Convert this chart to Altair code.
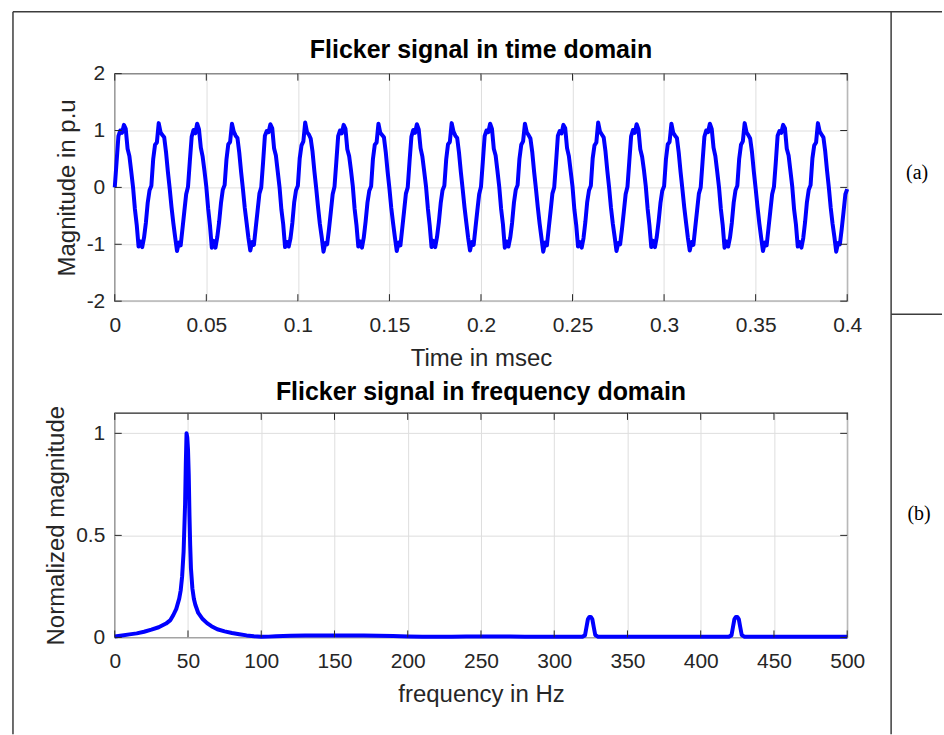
import altair as alt
import pandas as pd

# ---------------- data ----------------
# time-domain signal, one list per 20 ms cycle, sampled every 1 ms
signal_cycles = [
    [0.00, 0.45, 0.90, 1.00, 0.96, 1.10, 1.03, 0.68, 0.55, 0.28, 0.00, -0.38, -0.66, -1.04, -0.95, -1.05, -0.88, -0.62, -0.27, -0.05],
    [0.03, 0.50, 0.75, 0.79, 1.13, 0.97, 0.92, 0.88, 0.62, 0.28, -0.02, -0.35, -0.63, -0.88, -1.12, -0.97, -1.02, -0.72, -0.42, -0.12],
    [0.01, 0.46, 0.89, 1.01, 0.95, 1.12, 1.02, 0.70, 0.54, 0.29, 0.01, -0.37, -0.67, -1.06, -0.94, -1.06, -0.87, -0.61, -0.28, -0.04],
    [0.04, 0.49, 0.76, 0.80, 1.12, 0.98, 0.91, 0.87, 0.61, 0.27, -0.03, -0.36, -0.62, -0.89, -1.11, -0.96, -1.01, -0.71, -0.41, -0.11],
    [0.00, 0.44, 0.91, 0.99, 0.97, 1.11, 1.04, 0.69, 0.56, 0.28, 0.00, -0.39, -0.65, -1.05, -0.96, -1.04, -0.89, -0.62, -0.26, -0.05],
    [0.03, 0.51, 0.74, 0.81, 1.14, 0.97, 0.93, 0.86, 0.63, 0.29, -0.01, -0.34, -0.64, -0.87, -1.13, -0.98, -1.00, -0.73, -0.43, -0.12],
    [0.01, 0.45, 0.90, 1.00, 0.95, 1.10, 1.03, 0.67, 0.55, 0.30, 0.02, -0.38, -0.66, -1.04, -0.95, -1.06, -0.88, -0.60, -0.27, -0.06],
    [0.02, 0.50, 0.75, 0.79, 1.12, 0.96, 0.92, 0.88, 0.62, 0.28, -0.02, -0.36, -0.63, -0.88, -1.12, -0.97, -1.02, -0.72, -0.42, -0.11],
    [0.00, 0.46, 0.89, 1.01, 0.96, 1.11, 1.02, 0.69, 0.54, 0.28, 0.01, -0.37, -0.67, -1.05, -0.94, -1.05, -0.87, -0.61, -0.28, -0.05],
    [0.03, 0.49, 0.76, 0.80, 1.13, 0.98, 0.91, 0.87, 0.61, 0.27, -0.03, -0.35, -0.62, -0.89, -1.11, -0.96, -1.01, -0.71, -0.41, -0.12],
    [0.01, 0.45, 0.90, 1.00, 0.97, 1.12, 1.03, 0.68, 0.56, 0.29, 0.00, -0.38, -0.65, -1.06, -0.95, -1.04, -0.88, -0.62, -0.27, -0.04],
    [0.04, 0.50, 0.75, 0.81, 1.12, 0.97, 0.92, 0.86, 0.62, 0.28, -0.02, -0.34, -0.63, -0.88, -1.13, -0.97, -1.02, -0.72, -0.42, -0.11],
    [0.00, 0.44, 0.91, 0.99, 0.95, 1.10, 1.04, 0.69, 0.55, 0.28, 0.01, -0.39, -0.66, -1.04, -0.96, -1.06, -0.89, -0.61, -0.26, -0.05],
    [0.03, 0.51, 0.74, 0.79, 1.14, 0.98, 0.93, 0.88, 0.63, 0.29, -0.01, -0.36, -0.64, -0.87, -1.12, -0.98, -1.00, -0.73, -0.43, -0.12],
    [0.01, 0.46, 0.90, 1.01, 0.96, 1.11, 1.02, 0.67, 0.54, 0.30, 0.02, -0.37, -0.67, -1.05, -0.94, -1.05, -0.87, -0.60, -0.28, -0.06],
    [0.02, 0.49, 0.76, 0.80, 1.12, 0.96, 0.91, 0.87, 0.61, 0.27, -0.03, -0.35, -0.62, -0.89, -1.11, -0.96, -1.01, -0.71, -0.41, -0.11],
    [0.00, 0.45, 0.89, 1.00, 0.97, 1.12, 1.03, 0.70, 0.55, 0.28, 0.00, -0.38, -0.66, -1.06, -0.95, -1.04, -0.88, -0.62, -0.27, -0.05],
    [0.03, 0.50, 0.75, 0.81, 1.13, 0.97, 0.92, 0.86, 0.62, 0.28, -0.02, -0.34, -0.63, -0.88, -1.12, -0.97, -1.02, -0.72, -0.42, -0.12],
    [0.01, 0.44, 0.91, 0.99, 0.96, 1.10, 1.04, 0.68, 0.56, 0.29, 0.01, -0.39, -0.65, -1.04, -0.96, -1.06, -0.89, -0.61, -0.26, -0.04],
    [0.04, 0.51, 0.74, 0.79, 1.13, 0.98, 0.93, 0.88, 0.63, 0.29, -0.01, -0.36, -0.64, -0.87, -1.13, -0.98, -1.00, -0.73, -0.43, -0.12],
]
signal_last = -0.03
sample_step_s = 0.001

# frequency-domain spectrum
freq_hz = [0, 5, 10, 15, 20, 25, 30, 35, 38, 40, 42, 44, 45, 46, 47, 48, 48.5, 49, 49.5, 50,
           50.5, 51, 51.5, 52, 53, 54, 55, 57, 60, 63, 66, 70, 75, 80, 85, 90, 95, 100,
           105, 110, 120, 130, 140, 150, 160, 170, 180, 190, 200, 210, 220, 230, 240, 250,
           260, 270, 280, 290, 300, 310, 319, 321, 322, 323, 324, 325, 326, 327, 328, 330,
           340, 360, 380, 400, 410, 419, 421, 422, 423, 424, 425, 426, 427, 428, 430,
           440, 460, 480, 500]
freq_mag = [0.005, 0.01, 0.015, 0.02, 0.028, 0.038, 0.05, 0.068, 0.085, 0.11, 0.14, 0.19, 0.23, 0.30, 0.42, 0.65, 0.85, 1.0, 0.98, 0.92,
            0.80, 0.60, 0.45, 0.34, 0.24, 0.19, 0.16, 0.12, 0.09, 0.07, 0.055, 0.04, 0.03, 0.022, 0.016, 0.01, 0.006, 0.003,
            0.004, 0.006, 0.008, 0.009, 0.01, 0.01, 0.01, 0.009, 0.008, 0.007, 0.005, 0.004, 0.004, 0.004, 0.005, 0.005,
            0.005, 0.005, 0.004, 0.004, 0.004, 0.004, 0.003, 0.01, 0.05, 0.09, 0.10, 0.10, 0.09, 0.05, 0.012, 0.003,
            0.003, 0.003, 0.003, 0.003, 0.003, 0.003, 0.01, 0.05, 0.09, 0.10, 0.10, 0.09, 0.05, 0.012, 0.003,
            0.003, 0.003, 0.003, 0.003]

time_ticks = [0, 0.05, 0.1, 0.15, 0.2, 0.25, 0.3, 0.35, 0.4]
mag_ticks = [-2, -1, 0, 1, 2]
freq_ticks = [0, 50, 100, 150, 200, 250, 300, 350, 400, 450, 500]
norm_ticks = [0, 0.5, 1]

# ---------------- tables ----------------
sig_vals = [v for cyc in signal_cycles for v in cyc] + [signal_last]
df_time = pd.DataFrame({"t": [round(i * sample_step_s, 3) for i in range(len(sig_vals))], "v": sig_vals})
df_freq = pd.DataFrame({"f": freq_hz, "m": freq_mag})

# ---------------- styling ----------------
W = 734
H1 = 228
H2 = 225
GAP = 112
AX = "#262626"
BLUE = "#0000ff"
FONT = "Liberation Sans"
TICK_FS = 21
LAB_FS = 24
TITLE_FS = 25
TITLE_OFFSET = -20
TL = 7  # inward tick length

# the frame panel sits below the bottom plot; its origin in page pixels:
FR_X = 114
FR_Y = 72 + H1 + GAP + H2 + GAP
def rx(px):
    return px - FR_X
def ry(py):
    return py - FR_Y


def axis(title, values, title_pad=11):
    return alt.Axis(title=title, values=values, labelExpr="'' + datum.value",
                    grid=True, gridColor="#dedede", gridWidth=1, ticks=False, tickSize=0,
                    domain=False, labelFont=FONT, labelFontSize=TICK_FS, labelColor=AX,
                    labelPadding=13 if title_pad == 11 else 10, titleFont=FONT, titleFontSize=LAB_FS,
                    titleFontWeight="normal", titleColor=AX, titlePadding=title_pad,
                    labelOverlap=False, labelFlush=False)


def inward_ticks(xf, xvals, xscale, yf, yvals, yscale, w, h):
    dx = pd.DataFrame({xf: xvals})
    dy = pd.DataFrame({yf: yvals})
    X = alt.X(f"{xf}:Q", scale=xscale)
    Y = alt.Y(f"{yf}:Q", scale=yscale)
    rule_x = alt.Chart(dx).mark_rule(color=AX, strokeWidth=1)
    rule_y = alt.Chart(dy).mark_rule(color=AX, strokeWidth=1)
    return [
        rule_x.encode(x=X, y=alt.value(h), y2=alt.value(h - TL)),
        rule_x.encode(x=X, y=alt.value(0), y2=alt.value(TL)),
        rule_y.encode(y=Y, x=alt.value(0), x2=alt.value(TL)),
        rule_y.encode(y=Y, x=alt.value(w), x2=alt.value(w - TL)),
    ]


one = pd.DataFrame({"k": [0]})
FRAME = "#3c3c3c"
fw = 1.5
frame = alt.layer(
    alt.Chart(one).mark_rule(color=FRAME, strokeWidth=fw).encode(
        x=alt.value(rx(12)), y=alt.value(ry(10)), y2=alt.value(ry(734))),
    alt.Chart(one).mark_rule(color=FRAME, strokeWidth=fw).encode(
        x=alt.value(rx(892)), y=alt.value(ry(10)), y2=alt.value(ry(734))),
    alt.Chart(one).mark_rule(color=FRAME, strokeWidth=fw).encode(
        x=alt.value(rx(12)), x2=alt.value(rx(943)), y=alt.value(ry(10))),
    alt.Chart(one).mark_rule(color=FRAME, strokeWidth=fw).encode(
        x=alt.value(rx(892)), x2=alt.value(rx(943)), y=alt.value(ry(313))),
    alt.Chart(one).mark_text(text="(a)", font="Liberation Serif", fontSize=20, color="#000000",
                             align="center", baseline="middle").encode(
        x=alt.value(rx(918)), y=alt.value(ry(172))),
    alt.Chart(one).mark_text(text="(b)", font="Liberation Serif", fontSize=20, color="#000000",
                             align="center", baseline="middle").encode(
        x=alt.value(rx(920)), y=alt.value(ry(513))),
).properties(width=W, height=1, view=alt.ViewBackground(stroke="transparent"))

# ---------------- top panel ----------------
xs1 = alt.Scale(domain=[0, 0.4], nice=False, zero=False)
ys1 = alt.Scale(domain=[-2, 2], nice=False, zero=False)
line_t = alt.Chart(df_time).mark_line(color=BLUE, strokeWidth=4, strokeJoin="round").encode(
    x=alt.X("t:Q", scale=xs1, axis=axis("Time in msec", time_ticks)),
    y=alt.Y("v:Q", scale=ys1, axis=axis("Magnitude in p.u", mag_ticks, title_pad=7)),
)
top = alt.layer(line_t, *inward_ticks("t", time_ticks, xs1, "v", mag_ticks, ys1, W, H1)).properties(
    width=W, height=H1,
    title=alt.TitleParams("Flicker signal in time domain", font=FONT, fontSize=TITLE_FS,
                          fontWeight="bold", color="#000000", anchor="middle", frame="group",
                          baseline="alphabetic", offset=TITLE_OFFSET),
)

# ---------------- bottom panel ----------------
xs2 = alt.Scale(domain=[0, 500], nice=False, zero=False)
ys2 = alt.Scale(domain=[0, 1.1], nice=False, zero=False)
line_f = alt.Chart(df_freq).mark_line(color=BLUE, strokeWidth=4, strokeJoin="round").encode(
    x=alt.X("f:Q", scale=xs2, axis=axis("frequency in Hz", freq_ticks)),
    y=alt.Y("m:Q", scale=ys2, axis=axis("Normalized magnitude", norm_ticks, title_pad=7)),
)
bottom = alt.layer(line_f, *inward_ticks("f", freq_ticks, xs2, "m", norm_ticks, ys2, W, H2)).properties(
    width=W, height=H2,
    title=alt.TitleParams("Flicker signal in frequency domain", font=FONT, fontSize=TITLE_FS,
                          fontWeight="bold", color="#000000", anchor="middle", frame="group",
                          baseline="alphabetic", offset=TITLE_OFFSET),
)

chart = alt.vconcat(top, bottom, frame, spacing=GAP, bounds="flush").properties(
    padding={"left": 11, "top": 9, "right": 0, "bottom": 0},
    background="#ffffff",
).configure_view(stroke=AX, strokeWidth=1.2)

chart.save("out.html", embed_options={"renderer": "svg", "actions": False})
